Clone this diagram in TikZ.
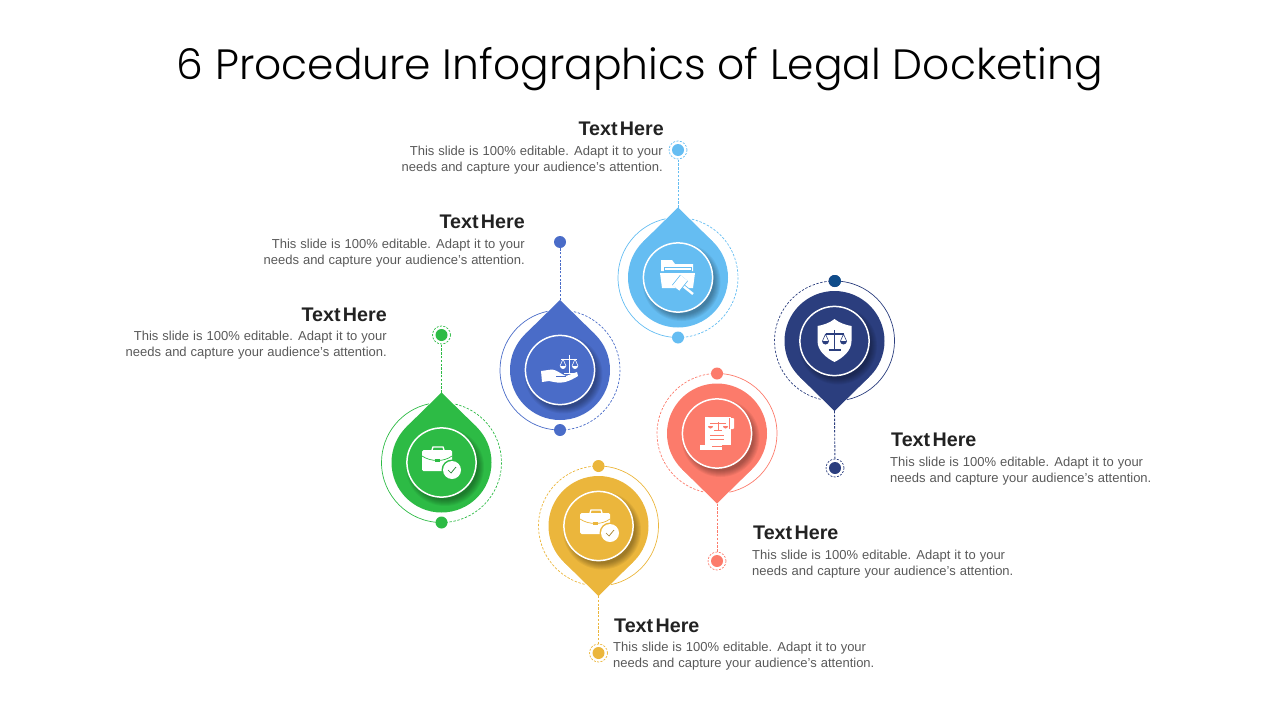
\documentclass[tikz,border=0pt]{standalone}
\usepackage{fontspec}
\setmainfont{Liberation Sans}
\newfontfamily\titlefont{Poppins Light}
\newcommand{\headfont}{\fontsize{19.7}{22}\selectfont\bfseries\fontdimen2\font=2.4pt\relax}
\newcommand{\bodyfont}{\fontsize{13}{16}\selectfont\fontdimen2\font=4pt\relax}
\definecolor{skypin}{HTML}{65BDF2}
\definecolor{bluepin}{HTML}{4A6CC8}
\definecolor{greenpin}{HTML}{2DBB45}
\definecolor{goldpin}{HTML}{EBB63C}
\definecolor{coralpin}{HTML}{FC7B6B}
\definecolor{navypin}{HTML}{2B3E7E}
\definecolor{navydot}{HTML}{0F4C8A}
\definecolor{headtext}{HTML}{222222}
\definecolor{bodytext}{HTML}{595959}
\tikzset{
  ringsolid/.style={line width=.7pt},
  ringdash/.style={line width=.7pt,dash pattern=on 2.4pt off 1.6pt},
  leader/.style={line width=.9pt,dash pattern=on 2.4pt off 1.4pt},
  dotmark/.style={circle,minimum size=12pt,inner sep=0pt},
  farring/.style={circle,minimum size=18pt,inner sep=0pt,draw,line width=.7pt,dash pattern=on 2pt off 1.4pt},
  headnode/.style={font=\headfont,text=headtext,inner sep=0pt},
  bodynode/.style={font=\bodyfont,text=bodytext,inner sep=0pt},
}
\newcommand{\pinmark}[5]{%
  \begin{scope}[shift={(#2,#3)},rotate=#4]
    \draw[ringsolid,#5] (0,-60) arc (-90:78:60);
    \draw[ringdash,#5] (0,-60) arc (270:102:60);
    \fill[#5] (0,0) circle (50);
    \fill[#5] (0,70)--(35,35.7)--(-35,35.7)--cycle;
    \coordinate (#1tip) at (0,70);
    \node[dotmark,fill=#5] (#1near) at (0,-60) {};
  \end{scope}
  \foreach \s in {33,34,35,36,37,38,39}
    \fill[black,opacity=.05] (#2+3.5,#3+4.5) circle (\s);
  \fill[#5] (#2,#3) circle (35);
  \draw[white,line width=1.5pt] (#2,#3) circle (34.6);
}
\newcommand{\caseicon}[3]{%
  \begin{scope}[shift={(#1,#2)}]
    \draw[white,line width=1.4pt] (-9,-13) -- (-8,-16) -- (2,-16) -- (3,-13);
    \fill[white,rounded corners=1.5pt] (-19,-13) rectangle (11,8);
    \draw[#3,line width=.7pt] (-19,-7) .. controls (-10,-1) and (3,-1) .. (11,-7);
    \fill[#3] (-6,-4.5) rectangle (-1,-1.5);
    \fill[#3] (11,7) circle (10.5);
    \fill[white] (11,7) circle (9);
    \draw[#3!70!black,line width=.7pt] (7,7) -- (10,10) -- (15,4);
  \end{scope}
}
\begin{document}
\begin{tikzpicture}[x=1pt,y=-1pt]
  \useasboundingbox (0,0) rectangle (1280,720);
  \node[font=\titlefont\fontsize{42.4}{50}\selectfont,text=black,inner sep=0pt] (title) at (640,69) {6 Procedure Infographics of Legal Docketing};

  \pinmark{sky}{678}{277.5}{180}{skypin}
  \pinmark{blue}{560}{370}{180}{bluepin}
  \pinmark{green}{441.5}{462.5}{180}{greenpin}
  \pinmark{gold}{598.5}{526}{0}{goldpin}
  \pinmark{coral}{717}{433.5}{0}{coralpin}
  \pinmark{navy}{834.5}{341}{0}{navypin}

  \node[farring,skypin] (skyfar) at (678,150) {};
  \node[dotmark,fill=skypin] at (678,150) {};
  \node[dotmark,fill=bluepin] (bluefar) at (560,242) {};
  \node[farring,greenpin] (greenfar) at (441.5,335) {};
  \node[dotmark,fill=greenpin] at (441.5,335) {};
  \node[farring,goldpin] (goldfar) at (598.5,653) {};
  \node[dotmark,fill=goldpin] at (598.5,653) {};
  \node[farring,coralpin] (coralfar) at (717,561) {};
  \node[dotmark,fill=coralpin] at (717,561) {};
  \node[farring,navypin] (navyfar) at (835,468) {};
  \node[dotmark,fill=navypin] at (835,468) {};
  \node[dotmark,fill=navydot] at (835,281) {};

  \draw[leader,skypin] (skytip)--(skyfar);
  \draw[leader,bluepin] (bluetip)--(bluefar);
  \draw[leader,greenpin] (greentip)--(greenfar);
  \draw[leader,goldpin] (goldtip)--(goldfar);
  \draw[leader,coralpin] (coraltip)--(coralfar);
  \draw[leader,navypin] (navytip)--(navyfar);

  % folder and gavel
  \begin{scope}[shift={(678,277)}]
    \fill[white] (-17,-17)--(-6,-17)--(-3,-13)--(15,-13)--(15,-6)--(-17,-6)--cycle;
    \fill[skypin] (-14,-10) rectangle (14,-4.5);
    \fill[white] (-13,-9.4) rectangle (13,-6.6);
    \fill[white] (-18,-4)--(17,-4)--(15,11)--(-16,11)--cycle;
    \draw[skypin,line width=4pt] (5,9)--(15,17);
    \draw[white,line width=2.4pt] (5,9)--(15,17);
    \draw[skypin,line width=10pt] (-2,11)--(6,1);
    \draw[white,line width=8.4pt] (-2,11)--(6,1);
  \end{scope}
  % scales and hand
  \begin{scope}[shift={(560,369)}]
    \draw[white,line width=.9pt] (9,-14)--(9,4) (1,-10)--(17,-10) (4,4)--(14,4);
    \draw[white,line width=.6pt] (3,-10)--(0,-3) (3,-10)--(6,-3) (15,-10)--(12,-3) (15,-10)--(18,-3);
    \fill[white] (0,-3) arc (180:0:3) -- cycle;
    \fill[white] (12,-3) arc (180:0:3) -- cycle;
    \fill[white] (-19,2)--(-12,1) .. controls (-6,-1) and (-2,3) .. (2,5)--(6,7)--(17,3)--(18,7) .. controls (10,12) and (3,15) .. (-6,13)--(-11,12)--(-18,13)--cycle;
    \draw[bluepin,line width=.6pt] (-4,7)--(6,7);
  \end{scope}
  \caseicon{441}{463}{greenpin}
  \caseicon{599}{526}{goldpin}
  % scroll
  \begin{scope}[shift={(717,433)}]
    \fill[white] (-12,-16)--(14,-16)--(14,12)--(-12,12)--cycle;
    \fill[white,rounded corners=1pt] (13,-15) rectangle (17,-4);
    \fill[white] (-17,12) rectangle (5,17);
    \draw[coralpin,line width=.6pt] (-5,13)--(8,13) (1,-11)--(1,-3) (-7,-10)--(9,-10) (-3,-2.5)--(5,-2.5) (-7,2)--(7,2) (-7,6)--(7,6) (12.5,-15)--(12.5,-4);
    \fill[coralpin] (-9,-7) arc (180:0:2.5) -- cycle;
    \fill[coralpin] (6,-7) arc (180:0:2.5) -- cycle;
  \end{scope}
  % shield
  \begin{scope}[shift={(834.5,341)}]
    \fill[white] (0,-22) .. controls (5,-18) and (11,-16) .. (17,-15)--(17,0) .. controls (17,10) and (8,17) .. (0,21) .. controls (-8,17) and (-17,10) .. (-17,0)--(-17,-15) .. controls (-11,-16) and (-5,-18) .. (0,-22)--cycle;
    \draw[navypin,line width=1.4pt] (0,-11)--(0,8) (-9,-7)--(9,-7);
    \draw[navypin,line width=2.2pt] (-6,9)--(6,9);
    \draw[navypin,line width=.6pt] (-9,-7)--(-12,0) (-9,-7)--(-6,0) (9,-7)--(6,0) (9,-7)--(12,0);
    \fill[navypin] (-12.5,0) arc (180:0:3.5) -- cycle;
    \fill[navypin] (5.5,0) arc (180:0:3.5) -- cycle;
  \end{scope}

  \node[headnode,anchor=east] (skyhead) at (664,128.5) {Text Here};
  \node[bodynode,anchor=east,align=right] (skybody) at (663,160.5) {This slide is 100\% editable. Adapt it to your\\needs and capture your audience's attention.};
  \node[headnode,anchor=east] (bluehead) at (525,221.5) {Text Here};
  \node[bodynode,anchor=east,align=right] (bluebody) at (525,253.5) {This slide is 100\% editable. Adapt it to your\\needs and capture your audience's attention.};
  \node[headnode,anchor=east] (greenhead) at (387,314.5) {Text Here};
  \node[bodynode,anchor=east,align=right] (greenbody) at (387,345.5) {This slide is 100\% editable. Adapt it to your\\needs and capture your audience's attention.};
  \node[headnode,anchor=west] (goldhead) at (614,625.5) {Text Here};
  \node[bodynode,anchor=west,align=left] (goldbody) at (613,656.5) {This slide is 100\% editable. Adapt it to your\\needs and capture your audience's attention.};
  \node[headnode,anchor=west] (coralhead) at (753,532.5) {Text Here};
  \node[bodynode,anchor=west,align=left] (coralbody) at (752,564.5) {This slide is 100\% editable. Adapt it to your\\needs and capture your audience's attention.};
  \node[headnode,anchor=west] (navyhead) at (891,439.5) {Text Here};
  \node[bodynode,anchor=west,align=left] (navybody) at (890,471.5) {This slide is 100\% editable. Adapt it to your\\needs and capture your audience's attention.};
\end{tikzpicture}
\end{document}
